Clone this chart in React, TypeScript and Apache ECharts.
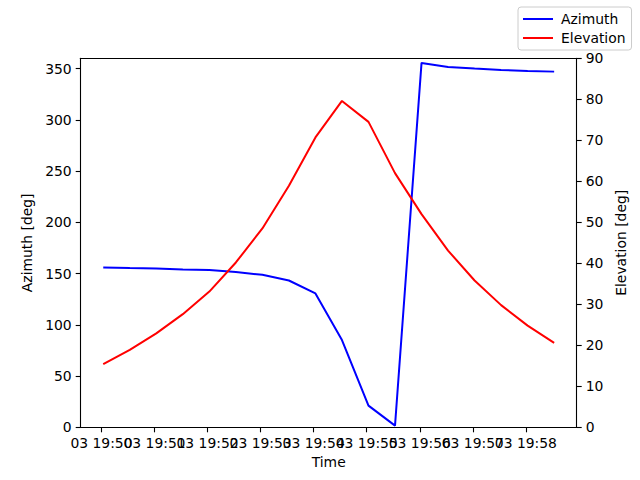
import { useEffect, useRef } from "react";
import * as echarts from "echarts";

// samples every 30 s, day 03
const times = [
  "19:50:02", "19:50:32", "19:51:02", "19:51:32", "19:52:02", "19:52:32",
  "19:53:02", "19:53:32", "19:54:02", "19:54:32", "19:55:02", "19:55:32",
  "19:56:02", "19:56:32", "19:57:02", "19:57:32", "19:58:02", "19:58:32",
];
const azimuth = [
  156.0, 155.3, 155.0, 154.0, 153.4, 151.4, 148.8, 143.2, 130.6, 85.1, 21.1, 1.6,
  355.5, 351.6, 350.0, 348.7, 347.7, 347.0,
];
const elevation = [
  15.4, 18.9, 22.9, 27.6, 33.1, 40.2, 48.5, 58.9, 70.7, 79.6, 74.5, 62.0,
  52.0, 43.1, 35.8, 29.8, 24.8, 20.6,
];
const tickLabels = [
  "03 19:50", "03 19:51", "03 19:52", "03 19:53", "03 19:54",
  "03 19:55", "03 19:56", "03 19:57", "03 19:58",
];
const azTicks = [0, 50, 100, 150, 200, 250, 300, 350];

const FONT = "DejaVu Sans";
const T0 = 19 * 3600 + 50 * 60; // 19:50:00

const toSec = (t: string) => {
  const [h, m, s] = t.split(":").map(Number);
  return h * 3600 + m * 60 + s - T0;
};

export default function App() {
  const chartRef = useRef(null);

  useEffect(() => {
    const chart = echarts.init(chartRef.current, null, { renderer: "svg" });
    const xs = times.map(toSec);
    const span = xs[xs.length - 1] - xs[0];
    const xMin = xs[0] - span * 0.05;
    const xMax = xs[xs.length - 1] + span * 0.05;
    const tickSecs = tickLabels.map((_, i) => i * 60);
    // labels overlap like matplotlib's, so split them over two bottom axes
    // (echarts would otherwise drop the ones that collide)
    const evenSecs = tickSecs.filter((_, i) => i % 2 === 0);
    const oddSecs = tickSecs.filter((_, i) => i % 2 === 1);

    const axisText = { color: "#000", fontFamily: FONT, fontSize: 13.9 };
    const line = { show: true, onZero: false, lineStyle: { color: "#000", width: 1.1 } };
    const tick = { show: true, length: 5, lineStyle: { color: "#000", width: 1.1 } };
    const fmt = (v: number) => tickLabels[Math.round(v / 60)] ?? "";

    const bottomAxis = (secs: number[], withName: boolean) => ({
      type: "value",
      position: "bottom",
      offset: 0,
      min: xMin,
      max: xMax,
      name: withName ? "Time" : "",
      nameLocation: "middle",
      nameGap: 27,
      nameTextStyle: axisText,
      axisLine: withName ? line : { show: false },
      axisTick: { ...tick, customValues: secs },
      axisLabel: {
        ...axisText,
        margin: 9,
        hideOverlap: false,
        showMinLabel: true,
        showMaxLabel: true,
        customValues: secs,
        formatter: fmt,
      },
      splitLine: { show: false },
    });

    chart.setOption({
      animation: false,
      textStyle: { fontFamily: FONT },
      grid: { left: 80.7, right: 63.3, top: 58.3, bottom: 52.7, outerBoundsMode: "none" },
      legend: {
        orient: "vertical",
        left: 518,
        top: 7,
        padding: [5, 6, 5, 5],
        icon: "rect",
        itemWidth: 30,
        itemHeight: 2,
        itemGap: 5,
        backgroundColor: "rgba(255,255,255,0.8)",
        borderColor: "#cccccc",
        borderWidth: 1,
        borderRadius: 3,
        textStyle: { ...axisText, padding: [0, 0, 0, 3] },
        data: ["Azimuth", "Elevation"],
      },
      xAxis: [
        bottomAxis(evenSecs, true),
        {
          type: "value",
          position: "top",
          min: xMin,
          max: xMax,
          axisLine: line,
          axisTick: { show: false },
          axisLabel: { show: false },
          splitLine: { show: false },
        },
        bottomAxis(oddSecs, false),
      ],
      yAxis: [
        {
          type: "value",
          min: 0,
          max: 360,
          name: "Azimuth [deg]",
          nameLocation: "middle",
          nameGap: 43,
          nameTextStyle: axisText,
          axisLine: line,
          axisTick: { ...tick, customValues: azTicks },
          axisLabel: { ...axisText, margin: 9, customValues: azTicks },
          splitLine: { show: false },
        },
        {
          type: "value",
          min: 0,
          max: 90,
          interval: 10,
          position: "right",
          name: "Elevation [deg]",
          nameLocation: "middle",
          nameGap: 32,
          nameTextStyle: axisText,
          axisLine: line,
          axisTick: tick,
          axisLabel: { ...axisText, margin: 9 },
          splitLine: { show: false },
        },
      ],
      series: [
        {
          name: "Azimuth",
          type: "line",
          yAxisIndex: 0,
          symbol: "none",
          lineStyle: { color: "#0000ff", width: 2 },
          itemStyle: { color: "#0000ff" },
          data: xs.map((x, i) => [x, azimuth[i]]),
        },
        {
          name: "Elevation",
          type: "line",
          yAxisIndex: 1,
          symbol: "none",
          lineStyle: { color: "#ff0000", width: 2 },
          itemStyle: { color: "#ff0000" },
          data: xs.map((x, i) => [x, elevation[i]]),
        },
      ],
    });

    return () => {
      chart.dispose();
    };
  }, []);

  return (
    <div
      ref={chartRef}
      style={{ position: "fixed", left: 0, top: 0, width: "640px", height: "480px", background: "#fff" }}
    />
  );
}
